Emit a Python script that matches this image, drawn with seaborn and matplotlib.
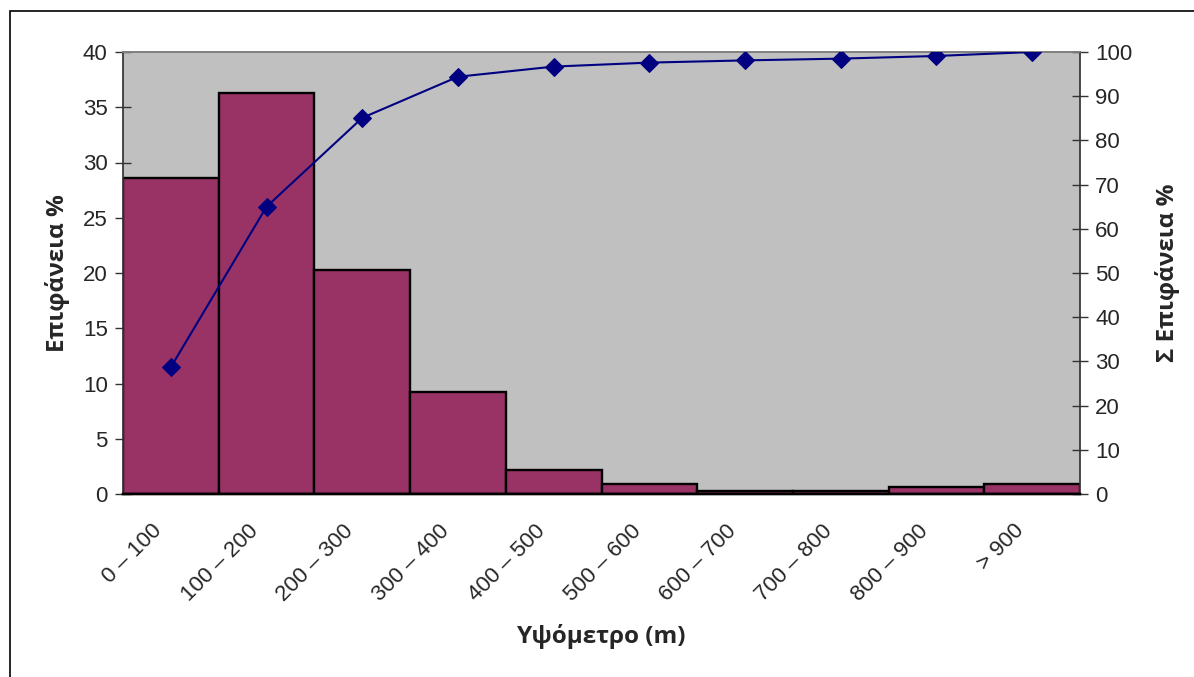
import matplotlib
matplotlib.use("Agg")
import matplotlib.pyplot as plt
import seaborn as sns
import pandas as pd
from matplotlib.patches import Rectangle

# Elevation classes and their share of the total area
classes = ["0 – 100", "100 – 200", "200 – 300", "300 – 400", "400 – 500",
           "500 – 600", "600 – 700", "700 – 800", "800 – 900", "> 900"]
area_pct = [28.6, 36.3, 20.3, 9.2, 2.2, 0.9, 0.3, 0.3, 0.65, 0.9]
cum_area_pct = [28.7, 65.0, 85.1, 94.4, 96.7, 97.6, 98.1, 98.5, 99.1, 100.0]

df = pd.DataFrame({"cls": classes, "area": area_pct, "cum": cum_area_pct})

sns.set_theme(style="white")
plt.rcParams["font.family"] = ["Liberation Sans", "DejaVu Sans"]

W, H = 1194, 677
L, R, T, B = 123, 1080, 52, 494

fig = plt.figure(figsize=(W / 100, H / 100), dpi=100)
ax = fig.add_axes([L / W, 1 - B / H, (R - L) / W, (B - T) / H])
ax.set_facecolor("#c0c0c0")

sns.barplot(data=df, x="cls", y="area", color="#993366", width=1.0,
            edgecolor="black", linewidth=1.7, saturation=1, ax=ax, zorder=2)
ax.set_xlim(-0.5, len(classes) - 0.5)
ax.set_ylim(0, 40)
ax.set_yticks(range(0, 41, 5))

ax2 = ax.twinx()
sns.lineplot(data=df, x="cls", y="cum", color="#000080", linewidth=1.5,
             marker="D", markersize=9, markeredgecolor="#000080", ax=ax2, zorder=3)
ax2.set_ylim(0, 100)
ax2.set_yticks(range(0, 101, 10))
ax2.set_xlim(-0.5, len(classes) - 0.5)

# x ticks at class boundaries; rotated labels sit just left of each class centre
ax.set_xticks([i - 0.5 for i in range(len(classes) + 1)])
ax.set_xticklabels([])
ax.set_xticks([i - 0.2 for i in range(len(classes))], minor=True)
ax.set_xticklabels(classes, minor=True, rotation=45, ha="right",
                   rotation_mode="anchor", fontsize=16)
ax.tick_params(axis="x", which="major", direction="out", length=7, width=1, color="#555555")
ax.tick_params(axis="x", which="minor", length=0, pad=19)

ax.tick_params(axis="y", direction="inout", length=12, width=1, color="#333333",
               labelsize=16, pad=5, left=True)
ax2.tick_params(axis="y", direction="inout", length=12, width=1, color="#333333",
                labelsize=16, pad=5, right=True)

for a in (ax, ax2):
    a.spines["top"].set_color("#808080")
    a.spines["top"].set_linewidth(1.2)
    a.spines["left"].set_color("#333333")
    a.spines["right"].set_color("#333333")
    a.spines["bottom"].set_color("black")
    a.spines["bottom"].set_linewidth(1.7)
ax.spines["right"].set_visible(False)
ax2.spines["left"].set_visible(False)

bold = dict(family=["Open Sans", "DejaVu Sans"], fontweight="bold", fontsize=17.5)
ax.set_xlabel("Υψόμετρο (m)", **bold)
ax.set_ylabel("Επιφάνεια %", **bold)
ax2.set_ylabel("Σ Επιφάνεια %", **bold)
ax.xaxis.set_label_coords(0.5, (B - 624) / (B - T))
ax.yaxis.set_label_coords((70 - L) / (R - L), 0.5)
ax2.yaxis.set_label_coords((1155 - L) / (R - L), 0.5)

# chart frame
fig.patches.append(Rectangle((10 / W, -0.1), 1.2, 1 - 11 / H + 0.1,
                             transform=fig.transFigure, fill=False,
                             edgecolor="black", linewidth=1.2))

fig.savefig("out.png", dpi=100, facecolor="white")
